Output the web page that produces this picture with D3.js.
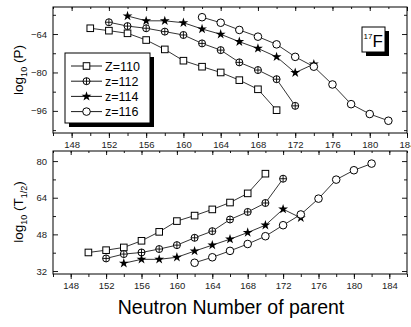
<!DOCTYPE html>
<html>
<head>
<meta charset="utf-8">
<script src="https://cdn.jsdelivr.net/npm/d3@7"></script>
<style>
body { margin: 0; background: #fff; }
text { font-family: "Liberation Sans", Arial, sans-serif; }
</style>
</head>
<body>
<svg id="chart" width="411" height="327"></svg>
<script>
// neutron numbers of the parent for each Z
const nZ110 = [150, 152, 154, 156, 158, 160, 162, 164, 166, 168, 170]
const nZ112 = [152, 154, 156, 158, 160, 162, 164, 166, 168, 170, 172]
const nZ114 = [154, 156, 158, 160, 162, 164, 166, 168, 170, 172, 174]
const nZ116 = [162, 164, 166, 168, 170, 172, 174, 176, 178, 180, 182]

// log10(P)
const logP110 = [-61.6, -62.6, -63.7, -66.5, -70.4, -75.1, -77.6, -80.0, -83.2, -87.0, -95.7]
const logP112 = [-59.1, -60.7, -61.6, -63.0, -64.4, -67.9, -70.7, -75.8, -79.0, -82.8, -93.9]
const logP114 = [-56.5, -58.5, -58.5, -59.3, -61.9, -64.1, -67.2, -70.0, -73.5, -80.1, -76.5]
const logP116 = [-57.0, -59.3, -62.3, -65.1, -68.3, -73.5, -77.6, -85.0, -93.2, -97.3, -100.1]

// log10(T1/2)
const logT110 = [40.1, 41.1, 42.3, 45.2, 49.1, 53.8, 56.2, 58.9, 61.9, 65.9, 74.5]
const logT112 = [37.5, 39.4, 40.1, 41.6, 43.3, 46.5, 49.4, 54.5, 57.8, 61.7, 72.3]
const logT114 = [35.4, 37.1, 37.1, 38.0, 40.7, 43.3, 45.9, 48.8, 52.0, 59.0, 55.2]
const logT116 = [35.6, 38.0, 40.8, 43.8, 47.2, 52.0, 56.7, 63.6, 71.9, 76.0, 78.9]

const legendLabels = ["Z=110", "z=112", "z=114", "z=116"]
const markers = ["square", "crossCircle", "star", "circle"]

const xTicks = [148, 152, 156, 160, 164, 168, 172, 176, 180, 184]
const xMinor = d3.range(146, 187, 2)
const pTicks = [-64, -80, -96]
const pMinor = [-56, -72, -88, -104]
const tTicks = [32, 48, 64, 80]
const tMinor = [40, 56, 72]

let svg = d3.select("#chart")
let left = 53, right = 407

function drawMarker(g, type, x, y) {
    if (type == "square") {
        g.append("rect").attr("x", x - 3.3).attr("y", y - 3.3).attr("width", 6.6).attr("height", 6.6)
            .attr("fill", "#fff").attr("stroke", "#000").attr("stroke-width", 1)
    } else if (type == "circle") {
        g.append("circle").attr("cx", x).attr("cy", y).attr("r", 3.8)
            .attr("fill", "#fff").attr("stroke", "#000").attr("stroke-width", 1)
    } else if (type == "crossCircle") {
        g.append("circle").attr("cx", x).attr("cy", y).attr("r", 3.5)
            .attr("fill", "#fff").attr("stroke", "#000").attr("stroke-width", 1)
        g.append("path").attr("d", `M${x - 3.5},${y}H${x + 3.5}M${x},${y - 3.5}V${y + 3.5}`)
            .attr("stroke", "#000").attr("stroke-width", 0.9)
    } else {
        g.append("path").attr("d", d3.symbol(d3.symbolStar, 30)())
            .attr("transform", `translate(${x},${y})`).attr("fill", "#000")
    }
}

function panel(top, bottom, xDomain, yDomain, yMajor, yMinor, series) {
    let x = d3.scaleLinear().domain(xDomain).range([left, right])
    let y = d3.scaleLinear().domain(yDomain).range([bottom, top])
    let g = svg.append("g")

    // x axis: ticks outward, mirrored inside on top
    g.append("g").attr("transform", `translate(0,${bottom})`)
        .call(d3.axisBottom(x).tickValues(xTicks).tickSize(5).tickPadding(3).tickFormat(d3.format("d")))
    g.append("g").attr("transform", `translate(0,${bottom})`)
        .call(d3.axisBottom(x).tickValues(xMinor).tickSize(3).tickFormat(""))
    g.append("g").attr("transform", `translate(0,${top})`)
        .call(d3.axisTop(x).tickValues(xTicks).tickSize(-4).tickFormat(""))
    g.append("g").attr("transform", `translate(0,${top})`)
        .call(d3.axisTop(x).tickValues(xMinor).tickSize(-2).tickFormat(""))

    // y axis: ticks inward, mirrored on the right
    g.append("g").attr("transform", `translate(${left},0)`)
        .call(d3.axisLeft(y).tickValues(yMajor).tickSize(-5).tickPadding(6).tickFormat(d3.format("d")))
    g.append("g").attr("transform", `translate(${left},0)`)
        .call(d3.axisLeft(y).tickValues(yMinor).tickSize(-3).tickFormat(""))
    g.append("g").attr("transform", `translate(${right},0)`)
        .call(d3.axisRight(y).tickValues(yMajor).tickSize(-5).tickFormat(""))
    g.append("g").attr("transform", `translate(${right},0)`)
        .call(d3.axisRight(y).tickValues(yMinor).tickSize(-3).tickFormat(""))

    g.selectAll(".domain").remove()
    g.selectAll(".tick line").attr("stroke", "#000").attr("stroke-width", 0.9)
    g.selectAll(".tick text").attr("font-size", 9.5).attr("fill", "#222")
        .attr("font-family", "'Liberation Sans', Arial, sans-serif")

    g.append("rect").attr("x", left).attr("y", top).attr("width", right - left).attr("height", bottom - top)
        .attr("fill", "none").attr("stroke", "#000").attr("stroke-width", 1)

    let line = d3.line().x(d => x(d[0])).y(d => y(d[1]))
    series.forEach((s, i) => {
        let pts = s.n.map((n, j) => [n, s.v[j]])
        g.append("path").attr("d", line(pts)).attr("fill", "none").attr("stroke", "#000").attr("stroke-width", 0.8)
        let mg = g.append("g")
        pts.forEach(p => drawMarker(mg, markers[i], x(p[0]), y(p[1])))
    })
    return g
}

let topPanel = panel(7, 133, [146, 184], [-105.2, -52.75], pTicks, pMinor, [
    {n: nZ110, v: logP110}, {n: nZ112, v: logP112}, {n: nZ114, v: logP114}, {n: nZ116, v: logP116}
])
panel(151, 274, [146, 186], [30.7, 84.4], tTicks, tMinor, [
    {n: nZ110, v: logT110}, {n: nZ112, v: logT112}, {n: nZ114, v: logT114}, {n: nZ116, v: logT116}
])

// legend with drop shadow
let lg = svg.append("g")
lg.append("rect").attr("x", 69).attr("y", 57).attr("width", 85).attr("height", 70).attr("fill", "#000")
lg.append("rect").attr("x", 65).attr("y", 53).attr("width", 85).attr("height", 70)
    .attr("fill", "#fff").attr("stroke", "#000").attr("stroke-width", 1)
legendLabels.forEach((lab, i) => {
    let yy = 66 + i * 15.2
    lg.append("line").attr("x1", 71).attr("x2", 102).attr("y1", yy).attr("y2", yy)
        .attr("stroke", "#000").attr("stroke-width", 0.9)
    drawMarker(lg, markers[i], 86.5, yy)
    lg.append("text").attr("x", 105).attr("y", yy + 4.5).attr("font-size", 12.5).text(lab)
})

// 17F label box
let fb = svg.append("g")
fb.append("rect").attr("x", 366).attr("y", 31).attr("width", 23).attr("height", 25).attr("fill", "#000")
fb.append("rect").attr("x", 362).attr("y", 27).attr("width", 23).attr("height", 25)
    .attr("fill", "#fff").attr("stroke", "#000").attr("stroke-width", 1)
let ft = fb.append("text").attr("x", 363.5).attr("y", 47)
ft.append("tspan").attr("font-size", 8).attr("dy", -8).text("17")
ft.append("tspan").attr("font-size", 17).attr("dy", 8).text("F")

// axis titles
let yl1 = svg.append("text").attr("transform", "translate(23,70) rotate(-90)")
    .attr("text-anchor", "middle").attr("font-size", 13.5)
yl1.append("tspan").text("log")
yl1.append("tspan").attr("font-size", 9).attr("dy", 4).text("10")
yl1.append("tspan").attr("dy", -4).text(" (P)")

let yl2 = svg.append("text").attr("transform", "translate(23,212) rotate(-90)")
    .attr("text-anchor", "middle").attr("font-size", 13.5)
yl2.append("tspan").text("log")
yl2.append("tspan").attr("font-size", 9).attr("dy", 4).text("10")
yl2.append("tspan").attr("dy", -4).text(" (T")
yl2.append("tspan").attr("font-size", 9).attr("dy", 4).text("1/2")
yl2.append("tspan").attr("dy", -4).text(")")

svg.append("text").attr("x", 231).attr("y", 314).attr("text-anchor", "middle")
    .attr("font-size", 19.5).text("Neutron Number of parent")
</script>
</body>
</html>
